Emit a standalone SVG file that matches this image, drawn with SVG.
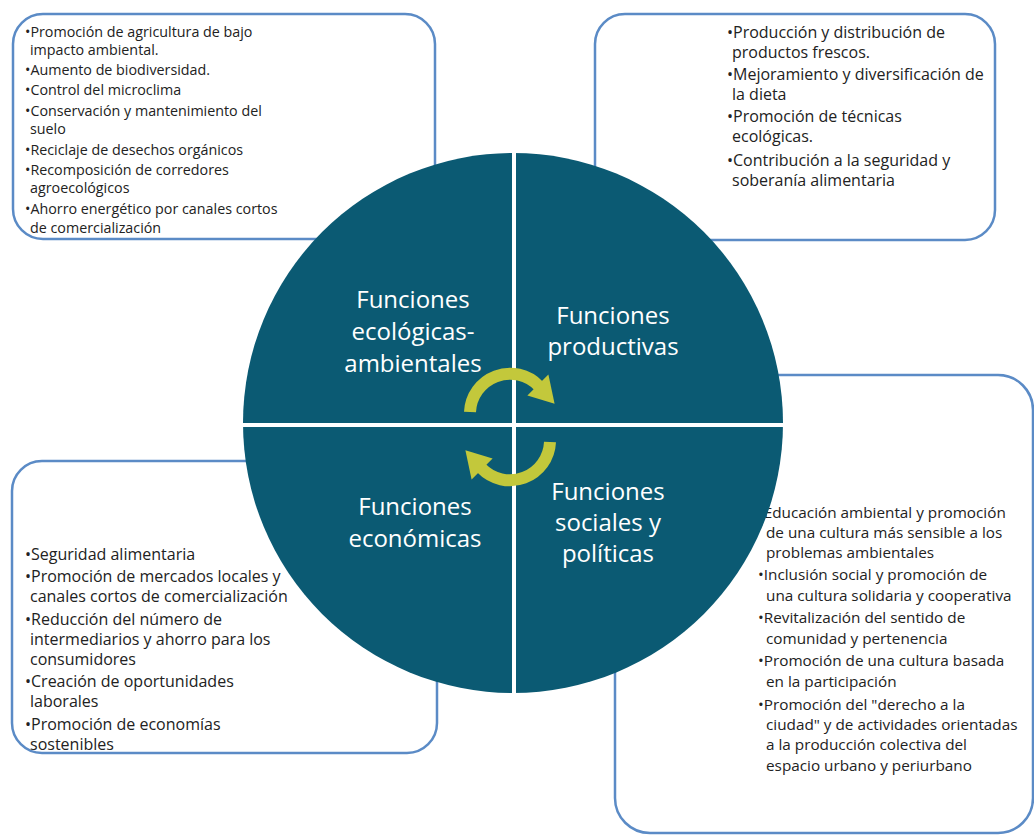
<svg xmlns="http://www.w3.org/2000/svg" width="1034" height="835" viewBox="0 0 1034 835">
<style>
.box{fill:#fff;stroke:#5b8bc6;stroke-width:2.5}
.t{font-family:"Open Sans","Noto Sans",sans-serif;fill:#222}
.s1{font-size:14.3px}
.s2{font-size:16px}
.s3{font-size:15.3px}
.lbl{font-family:"Open Sans","Noto Sans",sans-serif;font-size:24px;fill:#fff;text-anchor:middle}
.arr{fill:#c3c83b}
.arc{fill:none;stroke:#c3c83b;stroke-width:12}
</style>
<rect width="1034" height="835" fill="#fff"/>
<g id="box-ecologicas">
<rect class="box" x="13" y="14" width="422" height="225" rx="30"/>
<text class="t s1" x="25" y="37">•Promoción de agricultura de bajo<tspan x="30" y="55">impacto ambiental.</tspan></text>
<text class="t s1" x="25" y="75">•Aumento de biodiversidad.</text>
<text class="t s1" x="25" y="95">•Control del microclima</text>
<text class="t s1" x="25" y="116">•Conservación y mantenimiento del<tspan x="30" y="134">suelo</tspan></text>
<text class="t s1" x="25" y="155">•Reciclaje de desechos orgánicos</text>
<text class="t s1" x="25" y="175">•Recomposición de corredores<tspan x="30" y="193">agroecológicos</tspan></text>
<text class="t s1" x="25" y="214">•Ahorro energético por canales cortos<tspan x="30" y="233">de comercialización</tspan></text>
</g>
<g id="box-productivas">
<rect class="box" x="595" y="14" width="400" height="226" rx="30"/>
<text class="t s2" x="727" y="38">•Producción y distribución de<tspan x="732" y="58">productos frescos.</tspan></text>
<text class="t s2" x="727" y="80">•Mejoramiento y diversificación de<tspan x="732" y="100">la dieta</tspan></text>
<text class="t s2" x="727" y="122">•Promoción de técnicas<tspan x="732" y="142">ecológicas.</tspan></text>
<text class="t s2" x="727" y="166">•Contribución a la seguridad y<tspan x="732" y="186">soberanía alimentaria</tspan></text>
</g>
<g id="box-economicas">
<rect class="box" x="12" y="461" width="425" height="292" rx="30"/>
<text class="t s2" x="25" y="560">•Seguridad alimentaria</text>
<text class="t s2" x="25" y="582">•Promoción de mercados locales y<tspan x="30" y="602">canales cortos de comercialización</tspan></text>
<text class="t s2" x="25" y="625">•Reducción del número de<tspan x="30" y="645">intermediarios y ahorro para los</tspan><tspan x="30" y="665">consumidores</tspan></text>
<text class="t s2" x="25" y="687">•Creación de oportunidades<tspan x="30" y="707">laborales</tspan></text>
<text class="t s2" x="25" y="730">•Promoción de economías<tspan x="30" y="750">sostenibles</tspan></text>
</g>
<g id="box-sociales">
<rect class="box" x="615" y="375" width="418" height="458" rx="35"/>
<text class="t s3" x="758" y="518">•Educación ambiental y promoción<tspan x="766" y="538">de una cultura más sensible a los</tspan><tspan x="766" y="558">problemas ambientales</tspan></text>
<text class="t s3" x="758" y="579.5">•Inclusión social  y promoción de<tspan x="766" y="601">una cultura solidaria y cooperativa</tspan></text>
<text class="t s3" x="758" y="623">•Revitalización del sentido de<tspan x="766" y="644">comunidad y pertenencia</tspan></text>
<text class="t s3" x="758" y="666">•Promoción de una cultura basada<tspan x="766" y="687">en la participación</tspan></text>
<text class="t s3" x="758" y="710">•Promoción del "derecho a la<tspan x="766" y="730">ciudad" y de actividades orientadas</tspan><tspan x="766" y="750">a la producción colectiva  del</tspan><tspan x="766" y="771">espacio urbano y periurbano</tspan></text>
</g>
<g id="circle">
<circle cx="513" cy="423" r="270" fill="#0b5a73"/>
<line x1="514" y1="152" x2="514" y2="694" stroke="#fff" stroke-width="4"/>
<line x1="242" y1="425" x2="784" y2="425" stroke="#fff" stroke-width="4"/>
</g>
<g id="q-ecologicas">
<text class="lbl" x="413" y="308">Funciones<tspan x="413" y="340">ecológicas-</tspan><tspan x="413" y="372">ambientales</tspan></text>
</g>
<g id="q-productivas">
<text class="lbl" x="613" y="324">Funciones<tspan x="613" y="355">productivas</tspan></text>
</g>
<g id="q-economicas">
<text class="lbl" x="415" y="515">Funciones<tspan x="415" y="547">económicas</tspan></text>
</g>
<g id="q-sociales">
<text class="lbl" x="608" y="500">Funciones<tspan x="608" y="531">sociales y</tspan><tspan x="608" y="562">políticas</tspan></text>
</g>
<g id="connectors">
<g id="arrow-top">
<path class="arc" d="M470 412 A40 40 0 0 1 538.9 386.1"/>
<polygon class="arr" points="527.4,395.6 548.4,374.6 554.6,403.8"/>
</g>
<g id="arrow-bottom" transform="rotate(180 510 427)">
<path class="arc" d="M470 412 A40 40 0 0 1 538.9 386.1"/>
<polygon class="arr" points="527.4,395.6 548.4,374.6 554.6,403.8"/>
</g>
</g>
</svg>
